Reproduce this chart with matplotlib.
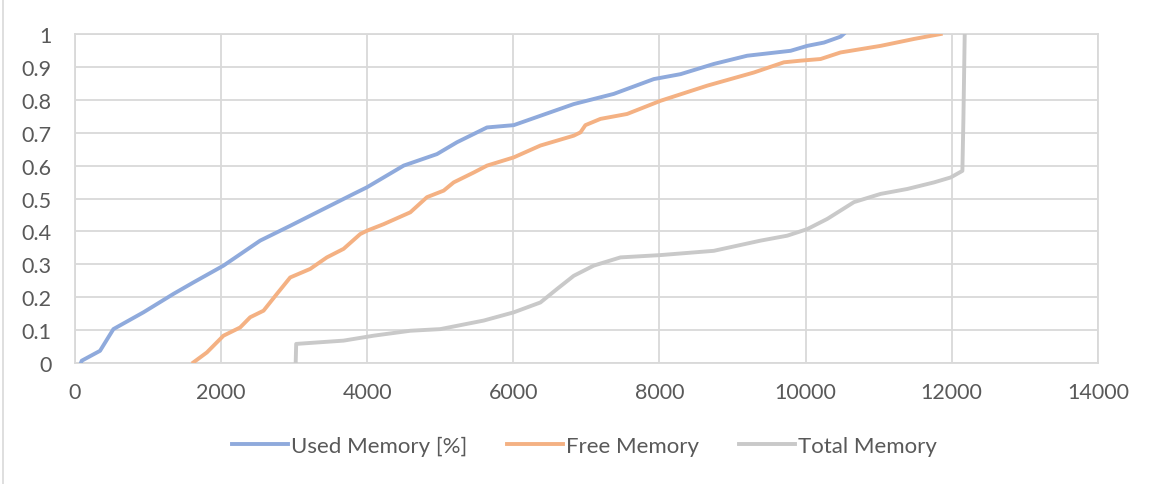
import matplotlib.pyplot as plt
from matplotlib.lines import Line2D

# CDF points (x = memory value, y = cumulative fraction)
used_x = [80, 92, 342, 525, 936, 1347, 1621, 2032, 2534, 2945, 3356, 3813, 3995,
          4498, 4954, 5228, 5639, 6005, 6826, 7374, 7922, 8288, 8744, 9200, 9795,
          10023, 10251, 10479, 10520]
used_y = [0.0, 0.007, 0.037, 0.103, 0.154, 0.21, 0.245, 0.296, 0.372, 0.417, 0.463,
          0.514, 0.534, 0.600, 0.635, 0.671, 0.716, 0.723, 0.787, 0.818, 0.863, 0.878,
          0.909, 0.934, 0.949, 0.964, 0.974, 0.992, 1.0]

free_x = [1621, 1804, 2032, 2260, 2397, 2580, 2763, 2945, 3219, 3447, 3676, 3904,
          3995, 4224, 4589, 4817, 5046, 5183, 5457, 5639, 6005, 6370, 6826, 6918,
          6986, 7192, 7557, 8014, 8653, 9292, 9703, 9932, 10205, 10479, 11027, 11484,
          11849]
free_y = [0.002, 0.032, 0.083, 0.108, 0.139, 0.159, 0.21, 0.260, 0.286, 0.321, 0.347,
          0.392, 0.402, 0.422, 0.458, 0.504, 0.524, 0.549, 0.579, 0.600, 0.625, 0.661,
          0.691, 0.701, 0.723, 0.742, 0.757, 0.797, 0.843, 0.883, 0.914, 0.919, 0.924,
          0.944, 0.964, 0.985, 1.0]

total_x = [3020, 3027, 3676, 4087, 4589, 5000, 5594, 6005, 6370, 6598, 6826, 7100,
           7466, 8014, 8744, 9384, 9749, 10023, 10297, 10662, 11027, 11393, 11758,
           11986, 12146, 12160, 12178]
total_y = [0.0, 0.058, 0.068, 0.083, 0.098, 0.103, 0.129, 0.154, 0.184, 0.225, 0.265,
           0.296, 0.321, 0.328, 0.341, 0.372, 0.387, 0.407, 0.438, 0.489, 0.514, 0.529,
           0.549, 0.564, 0.584, 0.741, 1.0]

x_ticks = [0, 2000, 4000, 6000, 8000, 10000, 12000, 14000]
y_ticks = [0, 0.1, 0.2, 0.3, 0.4, 0.5, 0.6, 0.7, 0.8, 0.9, 1]
y_labels = ["0", "0.1", "0.2", "0.3", "0.4", "0.5", "0.6", "0.7", "0.8", "0.9", "1"]

text_color = "#595959"
grid_color = "#D9D9D9"

plt.rcParams["font.family"] = ["Lato", "DejaVu Sans"]

fig = plt.figure(figsize=(11.51, 4.85), dpi=100)
ax = fig.add_axes([0.0652, 0.2495, 0.8886, 0.6783])

ax.plot(used_x, used_y, color="#8FAADC", linewidth=2.8, label="Used Memory [%]", zorder=3)
ax.plot(free_x, free_y, color="#F4B183", linewidth=2.8, label="Free Memory", zorder=3)
ax.plot(total_x, total_y, color="#C9C9C9", linewidth=2.8, label="Total Memory", zorder=3)

ax.set_xlim(0, 14000)
ax.set_ylim(0, 1)
ax.set_xticks(x_ticks)
ax.set_xticklabels([str(t) for t in x_ticks])
ax.set_yticks(y_ticks)
ax.set_yticklabels(y_labels)
ax.grid(True, color=grid_color, linewidth=1.3, zorder=0)
for side in ["left", "right", "top", "bottom"]:
    ax.spines[side].set_color(grid_color)
    ax.spines[side].set_linewidth(1.3)
ax.tick_params(length=0, labelsize=15.5, labelcolor=text_color)
ax.tick_params(axis="y", pad=17)
ax.tick_params(axis="x", pad=14)

fig.legend(*ax.get_legend_handles_labels(), loc="center", bbox_to_anchor=(0.508, 0.078),
           ncol=3, frameon=False, fontsize=16, labelcolor=text_color,
           handlelength=2.5, handletextpad=0.15, columnspacing=1.8)

# chart-area border, only the left edge shows in the reference crop
fig.add_artist(Line2D([0.003, 0.003], [0, 1], transform=fig.transFigure,
                      color=grid_color, linewidth=1.2))

fig.savefig("out.png", dpi=100)
